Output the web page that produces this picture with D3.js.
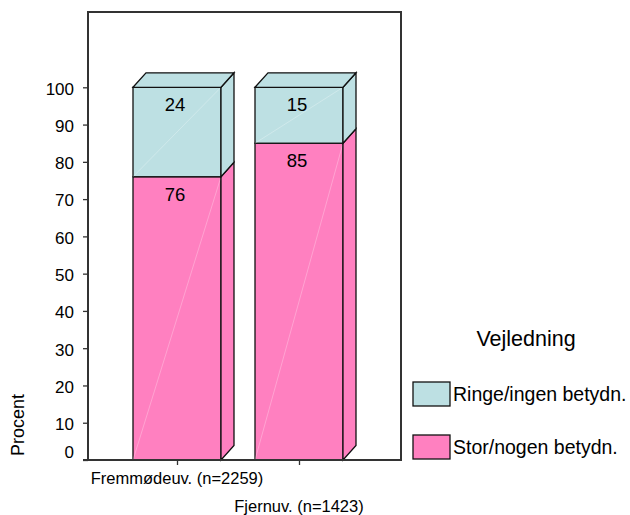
<!DOCTYPE html>
<html>
<head>
<meta charset="utf-8">
<script src="https://cdn.jsdelivr.net/npm/d3@7"></script>
<style>
  body { margin: 0; background: #fff; }
  text { font-family: "Liberation Sans", Arial, sans-serif; fill: #000; }
</style>
</head>
<body>
<script>
// data
const categories = ["Fremmødeuv. (n=2259)", "Fjernuv. (n=1423)"]
const stor = [76, 85]      // Stor/nogen betydn.
const ringe = [24, 15]     // Ringe/ingen betydn.
const seriesNames = ["Ringe/ingen betydn.", "Stor/nogen betydn."]
const yTicks = [0, 10, 20, 30, 40, 50, 60, 70, 80, 90, 100]

let width = 630
let height = 515
let plot = { left: 88, right: 401, top: 12, bottom: 460 }
let barW = 88
let depth = { dx: 13, dy: -14.5 }
const colors = { stor: "#ff80c0", ringe: "#bde0e3" }
const stroke = "#111"

const svg = d3.select("body").append("svg")
  .attr("width", width)
  .attr("height", height)

const x = d3.scalePoint().domain(categories).range([177, 299])
const y = d3.scaleLinear().domain([0, 100]).range([plot.bottom, 87.3])

// y axis
const yAxis = svg.append("g")
  .attr("transform", `translate(${plot.left},0)`)
  .call(d3.axisLeft(y).tickValues(yTicks).tickSize(5).tickPadding(9))
yAxis.select(".domain").remove()
yAxis.selectAll(".tick line").attr("stroke", "#333").attr("stroke-width", 1.3)
yAxis.selectAll(".tick text")
  .style("font-size", "17px")
  .attr("fill", "#000")
  .attr("dy", d => d === 0 ? "-0.15em" : "0.4em")

// x axis ticks
const xAxis = svg.append("g")
  .attr("transform", `translate(0,${plot.bottom})`)
  .call(d3.axisBottom(x).tickSize(5).tickFormat(""))
xAxis.select(".domain").remove()
xAxis.selectAll(".tick line").attr("stroke", "#333").attr("stroke-width", 1.3)

// staggered category labels
svg.selectAll(".xlab")
  .data(categories)
  .join("text")
  .attr("class", "xlab")
  .attr("x", d => x(d))
  .attr("y", (d, i) => i === 0 ? 484 : 512)
  .attr("text-anchor", "middle")
  .style("font-size", "16.5px")
  .text(d => d)

// stacked segments
const segs = []
categories.forEach((c, i) => {
  segs.push({ cat: c, key: "stor", y0: 0, y1: stor[i], top: false })
  segs.push({ cat: c, key: "ringe", y0: stor[i], y1: stor[i] + ringe[i], top: true })
})

const bars = svg.append("g")
bars.selectAll("g.seg")
  .data(segs)
  .join("g")
  .attr("class", "seg")
  .each(function (d) {
    const g = d3.select(this)
    const x0 = x(d.cat) - barW / 2
    const x1 = x(d.cat) + barW / 2
    const yt = y(d.y1)
    const yb = y(d.y0)
    const fill = colors[d.key]
    // front
    g.append("rect")
      .attr("x", x0).attr("y", yt)
      .attr("width", barW).attr("height", yb - yt)
      .attr("fill", fill).attr("stroke", stroke).attr("stroke-width", 1.3)
    // faint diagonal
    g.append("line")
      .attr("x1", x0).attr("y1", yb).attr("x2", x1).attr("y2", yt)
      .attr("stroke", "#fff").attr("stroke-opacity", 0.35).attr("stroke-width", 0.8)
    // side
    g.append("polygon")
      .attr("points", [[x1, yt], [x1 + depth.dx, yt + depth.dy], [x1 + depth.dx, yb + depth.dy], [x1, yb]].join(" "))
      .attr("fill", fill).attr("stroke", stroke).attr("stroke-width", 1.3)
    if (d.top) {
      g.append("polygon")
        .attr("points", [[x0, yt], [x0 + depth.dx, yt + depth.dy], [x1 + depth.dx, yt + depth.dy], [x1, yt]].join(" "))
        .attr("fill", fill).attr("stroke", stroke).attr("stroke-width", 1.3)
    }
  })

// value labels
svg.selectAll(".vlab")
  .data(segs)
  .join("text")
  .attr("class", "vlab")
  .attr("x", d => x(d.cat) - 2)
  .attr("y", d => y(d.y1) + 24)
  .attr("text-anchor", "middle")
  .style("font-size", "18.5px")
  .text(d => d.y1 - d.y0)

// frame
svg.append("path")
  .attr("d", `M${plot.left},${plot.bottom}V${plot.top}H${plot.right}V${plot.bottom}H${plot.left - 5}`)
  .attr("fill", "none").attr("stroke", "#333").attr("stroke-width", 2)

// y title
svg.append("text")
  .attr("transform", "translate(24,425) rotate(-90)")
  .attr("text-anchor", "middle")
  .style("font-size", "18px")
  .text("Procent")

// legend
svg.append("text")
  .attr("x", 526).attr("y", 346)
  .attr("text-anchor", "middle")
  .style("font-size", "21.5px")
  .text("Vejledning")

const legend = svg.selectAll(".leg")
  .data(seriesNames)
  .join("g")
  .attr("class", "leg")
  .attr("transform", (d, i) => `translate(413,${382 + i * 53})`)
legend.append("rect")
  .attr("width", 37).attr("height", 24)
  .attr("fill", (d, i) => i === 0 ? colors.ringe : colors.stor)
  .attr("stroke", stroke).attr("stroke-width", 1.3)
legend.append("text")
  .attr("x", 40).attr("y", 19)
  .style("font-size", "19.5px")
  .text(d => d)
</script>
</body>
</html>
